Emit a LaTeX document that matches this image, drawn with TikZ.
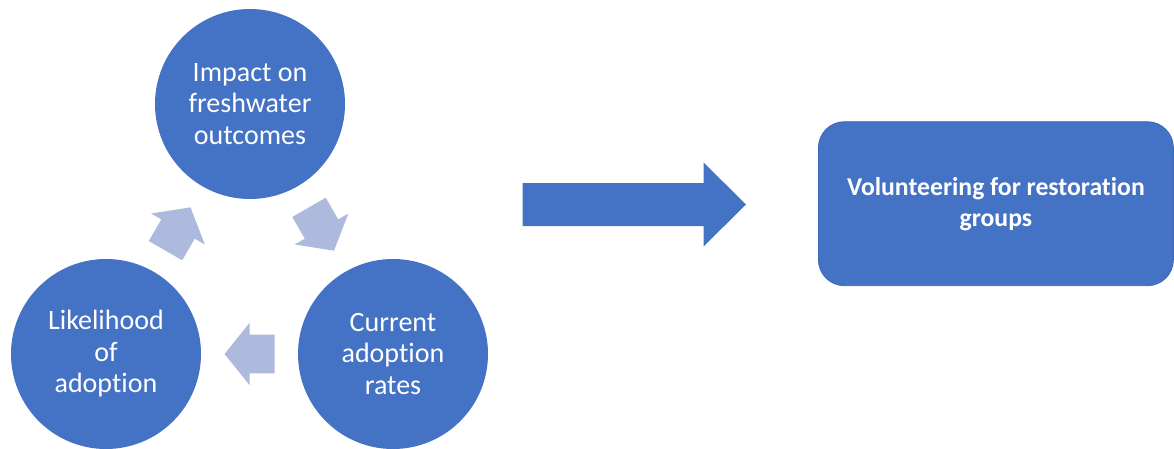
\documentclass[tikz,border=0pt]{standalone}
\usepackage{fontspec}
\setmainfont[Ligatures=NoCommon]{Carlito}
\usetikzlibrary{calc}
\definecolor{nodeblue}{HTML}{4472C4}
\definecolor{edgeblue}{HTML}{3D68B6}
\definecolor{cyclelight}{HTML}{ADBADD}
\tikzset{
  stage/.style={circle, fill=nodeblue, minimum size=190pt, inner sep=0pt,
    text=white, align=center, font=\fontsize{28}{31.5}\selectfont},
  outcome/.style={rectangle, rounded corners=26pt, fill=nodeblue, draw=edgeblue,
    line width=0.8pt, minimum width=355pt, minimum height=164pt, inner sep=0pt,
    text=white, align=center, font=\fontsize{25.7}{31}\selectfont\bfseries},
  cyclearrow/.pic={
    \fill[cyclelight] (-25,-19.3) -- (0,-19.3) -- (0,-31) -- (25,0)
      -- (0,31) -- (0,19.3) -- (-25,19.3) -- cycle;
  }
}
\begin{document}
\begin{tikzpicture}[x=1pt,y=1pt]
  \useasboundingbox (0,0) rectangle (1174,448);

  % the three stages of the cycle
  \node[stage] (impact) at (250,344) {Impact on\\freshwater\\outcomes};
  \node[stage] (current) at (393,94) {Current\\adoption\\rates};
  \node[stage] (likely) at (106,94) {Likelihood\\of\\adoption};

  % block arrows between the stages, centred half-way and pointing along the cycle
  \pic[rotate=60] at ($(likely)!0.5!(impact)$) {cyclearrow};
  \pic[rotate=-60] at ($(impact)!0.5!(current)$) {cyclearrow};
  \pic[rotate=180] at ($(current)!0.5!(likely)$) {cyclearrow};

  % outcome box
  \node[outcome] (volunteer) at (995.9,244.3) {Volunteering for restoration\\groups};

  % wide block arrow leading to the outcome
  \coordinate (tail) at (522.7,243.5);
  \coordinate (tip) at (746,243.5);
  \fill[nodeblue] ($(tail)+(0,-21.5)$) -- (703.5,222) -- (703.5,201.5) -- (tip)
    -- (703.5,285.5) -- (703.5,265) -- ($(tail)+(0,21.5)$) -- cycle;
\end{tikzpicture}
\end{document}
